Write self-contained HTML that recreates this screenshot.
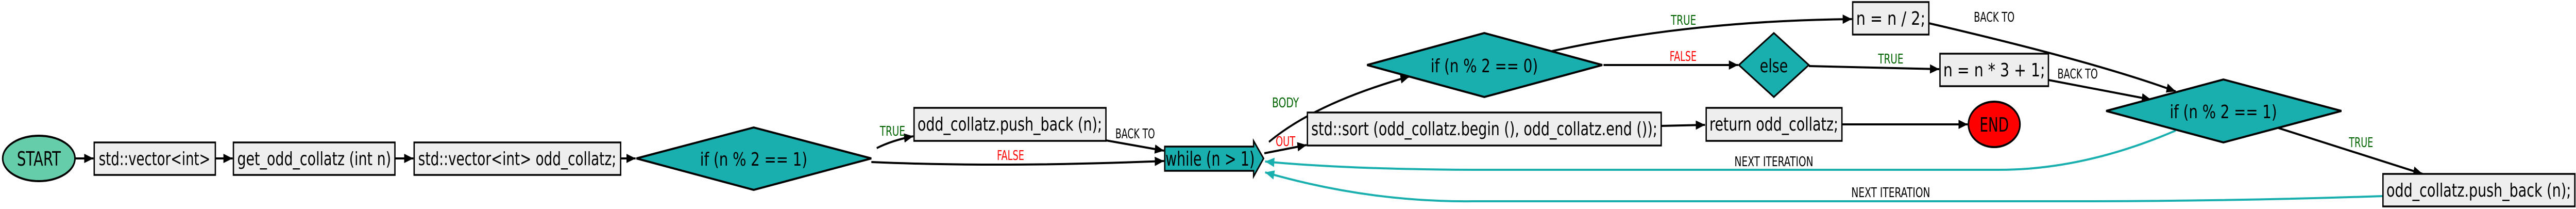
<!DOCTYPE html>
<html><head><meta charset="utf-8"><style>
html,body{margin:0;padding:0;background:#fff;width:100%;height:100%;overflow:hidden;}
svg{display:block;width:100vw;height:100vh;}
text{font-family:"DejaVu Sans","Liberation Sans",sans-serif;}
</style></head><body>
<svg viewBox="0 0 6699 405" preserveAspectRatio="none" xmlns="http://www.w3.org/2000/svg">
<defs>
<marker id="ab" viewBox="0 0 10 10" refX="10" refY="5" markerWidth="6" markerHeight="4.5" orient="auto" markerUnits="strokeWidth" preserveAspectRatio="none"><path d="M0,0 L10,5 L0,10 z" fill="#000"/></marker>
<marker id="at" viewBox="0 0 10 10" refX="10" refY="5" markerWidth="6" markerHeight="4.5" orient="auto" markerUnits="strokeWidth" preserveAspectRatio="none"><path d="M0,0 L10,5 L0,10 z" fill="#1aafaf"/></marker>
</defs>

<g fill="none" stroke="#000" stroke-width="4">
<path d="M195,307 L243,307" marker-end="url(#ab)"/>
<path d="M560,307 L605,307" marker-end="url(#ab)"/>
<path d="M1027,307 L1075,307" marker-end="url(#ab)"/>
<path d="M1614,307 L1653,307" marker-end="url(#ab)"/>
<path d="M2280,287 Q2320,272 2375,264" marker-end="url(#ab)"/>
<path d="M2266,314 Q2600,325 3027,312" marker-end="url(#ab)"/>
<path d="M2876,272 L3027,292" marker-end="url(#ab)"/>
<path d="M3288,297 L3398,281" marker-end="url(#ab)"/>
<path d="M3300,275 Q3420,200 3666,148" marker-end="url(#ab)"/>
<path d="M4036,99 Q4400,40 4816,37" marker-end="url(#ab)"/>
<path d="M4170,126 L4520,126" marker-end="url(#ab)"/>
<path d="M4704,128 L5043,134" marker-end="url(#ab)"/>
<path d="M4320,244 L4434,242" marker-end="url(#ab)"/>
<path d="M4790,241 L5117,241" marker-end="url(#ab)"/>
<path d="M5016,45 Q5450,120 5658,177" marker-end="url(#ab)"/>
<path d="M5327,155 L5594,193" marker-end="url(#ab)"/>
<path d="M5925,248 L6300,337" marker-end="url(#ab)"/>
</g>
<g fill="none" stroke="#1aafaf" stroke-width="4">
<path d="M5658,253 Q5420,329 5200,329 L3830,329 Q3500,328 3290,313" marker-end="url(#at)"/>
<path d="M6196,380 Q5800,390 5400,390 L3830,390 Q3560,392 3290,334" marker-end="url(#at)"/>
</g>

<ellipse cx="101" cy="307" rx="94" ry="44" fill="#66cdaa" stroke="#000" stroke-width="4"/>
<text x="101" y="321" font-size="38" text-anchor="middle" textLength="114" lengthAdjust="spacingAndGlyphs">START</text>

<g stroke="#000" stroke-width="3.5" fill="#eeeeee">
<rect x="245" y="276" width="315" height="63"/>
<rect x="607" y="276" width="420" height="63"/>
<rect x="1077" y="276" width="537" height="63"/>
<rect x="2377" y="209" width="499" height="64"/>
<rect x="3400" y="218" width="920" height="64"/>
<rect x="4437" y="209" width="353" height="64"/>
<rect x="4818" y="4" width="198" height="63"/>
<rect x="5045" y="104" width="282" height="63"/>
<rect x="6197" y="337" width="499" height="63"/>
</g>
<g font-size="36" text-anchor="middle">
<text x="402" y="320" textLength="290" lengthAdjust="spacingAndGlyphs">std::vector&lt;int&gt;</text>
<text x="817" y="320" textLength="400" lengthAdjust="spacingAndGlyphs">get_odd_collatz (int n)</text>
<text x="1345" y="320" textLength="515" lengthAdjust="spacingAndGlyphs">std::vector&lt;int&gt; odd_collatz;</text>
<text x="2626" y="253" textLength="480" lengthAdjust="spacingAndGlyphs">odd_collatz.push_back (n);</text>
<text x="3860" y="262" textLength="900" lengthAdjust="spacingAndGlyphs">std::sort (odd_collatz.begin (), odd_collatz.end ());</text>
<text x="4613" y="253" textLength="335" lengthAdjust="spacingAndGlyphs">return odd_collatz;</text>
<text x="4917" y="48" textLength="180" lengthAdjust="spacingAndGlyphs">n = n / 2;</text>
<text x="5186" y="148" textLength="265" lengthAdjust="spacingAndGlyphs">n = n * 3 + 1;</text>
<text x="6446" y="381" textLength="480" lengthAdjust="spacingAndGlyphs">odd_collatz.push_back (n);</text>
</g>

<polygon points="1655,307 1960,247 2266,307 1960,368" fill="#1aafaf" stroke="#000" stroke-width="4"/>
<text x="1960" y="321" font-size="36" text-anchor="middle" textLength="279" lengthAdjust="spacingAndGlyphs">if (n % 2 == 1)</text>

<polygon points="3029,284 3260,284 3260,273 3286,307 3260,342 3260,331 3029,331" fill="#1aafaf" stroke="#000" stroke-width="3.5"/>
<text x="3147" y="321" font-size="38" text-anchor="middle" textLength="232" lengthAdjust="spacingAndGlyphs">while (n &gt; 1)</text>

<polygon points="3555,126 3860,64 4167,126 3860,188" fill="#1aafaf" stroke="#000" stroke-width="4"/>
<text x="3860" y="140" font-size="36" text-anchor="middle" textLength="279" lengthAdjust="spacingAndGlyphs">if (n % 2 == 0)</text>

<polygon points="4522,126 4613,64 4704,126 4613,188" fill="#1aafaf" stroke="#000" stroke-width="3.5"/>
<text x="4613" y="140" font-size="36" text-anchor="middle" textLength="73" lengthAdjust="spacingAndGlyphs">else</text>

<ellipse cx="5186" cy="241" rx="67" ry="44" fill="#ff0000" stroke="#000" stroke-width="4"/>
<text x="5186" y="255" font-size="38" text-anchor="middle" textLength="76" lengthAdjust="spacingAndGlyphs">END</text>

<polygon points="5477,215 5782,154 6089,215 5782,276" fill="#1aafaf" stroke="#000" stroke-width="4"/>
<text x="5782" y="229" font-size="36" text-anchor="middle" textLength="279" lengthAdjust="spacingAndGlyphs">if (n % 2 == 1)</text>

<g font-size="26" text-anchor="middle">
<text x="2321" y="263" fill="#006400" textLength="66" lengthAdjust="spacingAndGlyphs">TRUE</text>
<text x="2628" y="310" fill="#ff0000" textLength="71" lengthAdjust="spacingAndGlyphs">FALSE</text>
<text x="2952" y="268" fill="#000" textLength="103" lengthAdjust="spacingAndGlyphs">BACK TO</text>
<text x="3343" y="208" fill="#006400" textLength="70" lengthAdjust="spacingAndGlyphs">BODY</text>
<text x="3343" y="283" fill="#ff0000" textLength="51" lengthAdjust="spacingAndGlyphs">OUT</text>
<text x="4378" y="48" fill="#006400" textLength="66" lengthAdjust="spacingAndGlyphs">TRUE</text>
<text x="4377" y="118" fill="#ff0000" textLength="70" lengthAdjust="spacingAndGlyphs">FALSE</text>
<text x="4917" y="123" fill="#006400" textLength="66" lengthAdjust="spacingAndGlyphs">TRUE</text>
<text x="5186" y="42" fill="#000" textLength="106" lengthAdjust="spacingAndGlyphs">BACK TO</text>
<text x="5403" y="152" fill="#000" textLength="105" lengthAdjust="spacingAndGlyphs">BACK TO</text>
<text x="6140" y="285" fill="#006400" textLength="63" lengthAdjust="spacingAndGlyphs">TRUE</text>
<text x="4613" y="322" fill="#000" textLength="205" lengthAdjust="spacingAndGlyphs">NEXT ITERATION</text>
<text x="4917" y="382" fill="#000" textLength="205" lengthAdjust="spacingAndGlyphs">NEXT ITERATION</text>
</g>
</svg>
</body></html>
